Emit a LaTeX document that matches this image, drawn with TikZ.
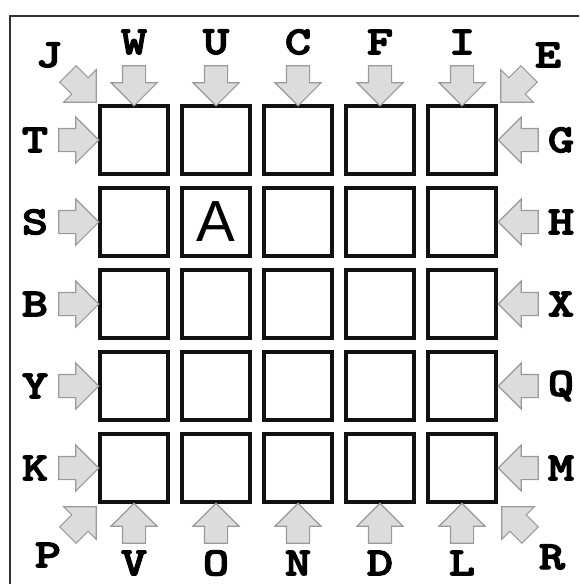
\documentclass[tikz,border=0pt]{standalone}
\usepackage{fontspec}
\setsansfont{Liberation Sans}
\newfontfamily\lblfont{lmmonolt10-bold.otf}[FakeBold=3,FakeStretch=1.25]
\usetikzlibrary{shapes.arrows}
\definecolor{frame}{HTML}{333333}
\definecolor{grid}{HTML}{111111}
\definecolor{arrfill}{HTML}{DCDCDC}
\definecolor{arredge}{HTML}{9A9A9A}

\begin{document}
\begin{tikzpicture}[x=1pt,y=-1pt,
  cell/.style={draw=grid,line width=4pt,minimum size=68pt,inner sep=0pt},
  arr/.style={single arrow,draw=arredge,fill=arrfill,line width=1.1pt,inner xsep=0pt,inner ysep=11pt,
    single arrow head extend=11.5pt,minimum height=40pt},
  lbl/.style={font=\fontsize{40}{40}\selectfont\lblfont,text=black,inner sep=0pt}]
  \useasboundingbox (0,0) rectangle (579,584);
  \fill[white] (0,0) rectangle (579,584);
  \draw[frame,line width=2pt] (10,584) |- (579,16);

  % ===== grid =====
  \node[cell] (c11) at (134,140) {}; \node[cell] (c12) at (216,140) {}; \node[cell] (c13) at (298,140) {}; \node[cell] (c14) at (380,140) {}; \node[cell] (c15) at (462,140) {};
  \node[cell] (c21) at (134,222) {}; \node[cell] (c22) at (216,222) {}; \node[cell] (c23) at (298,222) {}; \node[cell] (c24) at (380,222) {}; \node[cell] (c25) at (462,222) {};
  \node[cell] (c31) at (134,304) {}; \node[cell] (c32) at (216,304) {}; \node[cell] (c33) at (298,304) {}; \node[cell] (c34) at (380,304) {}; \node[cell] (c35) at (462,304) {};
  \node[cell] (c41) at (134,386) {}; \node[cell] (c42) at (216,386) {}; \node[cell] (c43) at (298,386) {}; \node[cell] (c44) at (380,386) {}; \node[cell] (c45) at (462,386) {};
  \node[cell] (c51) at (134,468) {}; \node[cell] (c52) at (216,468) {}; \node[cell] (c53) at (298,468) {}; \node[cell] (c54) at (380,468) {}; \node[cell] (c55) at (462,468) {};
  \node[font=\fontsize{58}{58}\selectfont\sffamily] (mark) at (c22) {A};

  % ===== top =====
  \node[arr,rotate=-90] (aW) at (134,80) {}; \node[lbl] (W) at (134,42) {W};
  \node[arr,rotate=-90] (aU) at (216,80) {}; \node[lbl] (U) at (216,42) {U};
  \node[arr,rotate=-90] (aC) at (298,80) {}; \node[lbl] (C) at (298,42) {C};
  \node[arr,rotate=-90] (aF) at (380,80) {}; \node[lbl] (F) at (380,42) {F};
  \node[arr,rotate=-90] (aI) at (462,80) {}; \node[lbl] (I) at (462,42) {I};

  % ===== bottom =====
  \node[arr,rotate=90] (aV) at (134,529) {}; \node[lbl] (V) at (134,563) {V};
  \node[arr,rotate=90] (aO) at (216,529) {}; \node[lbl] (O) at (216,563) {O};
  \node[arr,rotate=90] (aN) at (298,529) {}; \node[lbl] (N) at (298,563) {N};
  \node[arr,rotate=90] (aD) at (380,529) {}; \node[lbl] (D) at (380,563) {D};
  \node[arr,rotate=90] (aL) at (462,529) {}; \node[lbl] (L) at (462,563) {L};

  % ===== left =====
  \node[arr] (aT) at (73,140) {}; \node[lbl] (T) at (35,140) {T};
  \node[arr] (aS) at (73,222) {}; \node[lbl] (S) at (35,222) {S};
  \node[arr] (aB) at (73,304) {}; \node[lbl] (B) at (35,304) {B};
  \node[arr] (aY) at (73,386) {}; \node[lbl] (Y) at (35,386) {Y};
  \node[arr] (aK) at (73,468) {}; \node[lbl] (K) at (35,468) {K};

  % ===== right =====
  \node[arr,rotate=180] (aG) at (524,140) {}; \node[lbl] (G) at (561,140) {G};
  \node[arr,rotate=180] (aH) at (524,222) {}; \node[lbl] (H) at (561,222) {H};
  \node[arr,rotate=180] (aX) at (524,304) {}; \node[lbl] (X) at (561,304) {X};
  \node[arr,rotate=180] (aQ) at (524,386) {}; \node[lbl] (Q) at (561,386) {Q};
  \node[arr,rotate=180] (aM) at (524,468) {}; \node[lbl] (M) at (561,468) {M};

  % ===== corners =====
  \node[arr,rotate=-45] (aJ) at (78,84) {}; \node[lbl] (J) at (49,55) {J};
  \node[arr,rotate=-135] (aE) at (519,84) {}; \node[lbl] (E) at (548,55) {E};
  \node[arr,rotate=45] (aP) at (78,525) {}; \node[lbl] (P) at (48,555) {P};
  \node[arr,rotate=135] (aR) at (520,525) {}; \node[lbl] (R) at (552,557) {R};
\end{tikzpicture}
\end{document}
